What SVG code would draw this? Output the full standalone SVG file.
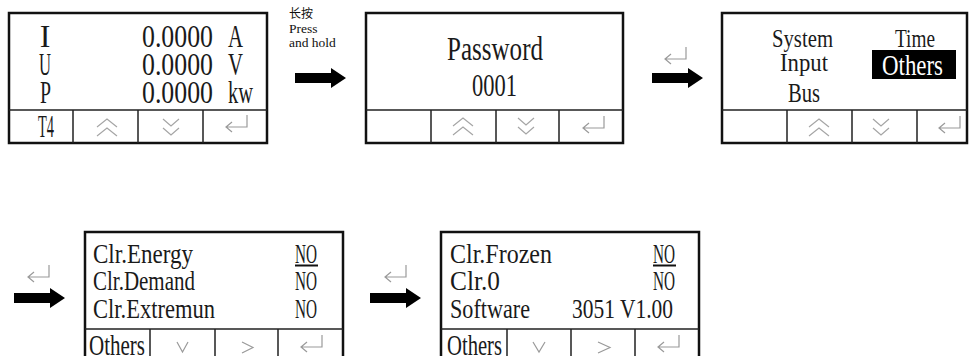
<svg xmlns="http://www.w3.org/2000/svg" width="970" height="356" viewBox="0 0 970 356">
<defs>
<style>
.box{fill:#fff;stroke:#111;stroke-width:2.5}
.div{stroke:#222;stroke-width:1.5;fill:none}
.lcd{font-family:"Liberation Serif","DejaVu Serif",serif;fill:#1a1a1a}
.sym{fill:none;stroke:#9a9a9a;stroke-width:1.2}
.note{font-family:"Liberation Serif","Noto Sans CJK SC",serif;font-size:13.5px;fill:#111}
</style>
<path id="arrow" d="M0,-5 H36 V-10 L51,0 L36,10 V5 H0 Z" fill="#000"/>
<path id="ret" d="M22,0 V12 H1 M7,7 L1,12 L7,17" fill="none" stroke="#9a9a9a" stroke-width="1.2"/>
<path id="dup" d="M0,9 L10,1 L20,9 M0,18 L10,10 L20,18" fill="none" stroke="#a5a5a5" stroke-width="1.2"/>
<path id="ddn" d="M0,1 L8,8 L16,1 M0,10 L8,17 L16,10" fill="none" stroke="#a5a5a5" stroke-width="1.2"/>
</defs>
<rect width="970" height="356" fill="#fff"/>

<g id="node-measure">
<rect class="box" x="9" y="13" width="258" height="130"/>
<path class="div" d="M9,110 H267 M73,110 V143 M138,110 V143 M203,110 V143"/>
<text class="lcd" font-size="32" x="45" y="47" text-anchor="middle">I</text>
<text class="lcd" font-size="32" x="39" y="75" textLength="12" lengthAdjust="spacingAndGlyphs">U</text>
<text class="lcd" font-size="32" x="40" y="103" textLength="11" lengthAdjust="spacingAndGlyphs">P</text>
<text class="lcd" font-size="32" x="142" y="47" textLength="71" lengthAdjust="spacingAndGlyphs">0.0000</text>
<text class="lcd" font-size="32" x="142" y="75" textLength="71" lengthAdjust="spacingAndGlyphs">0.0000</text>
<text class="lcd" font-size="32" x="142" y="103" textLength="71" lengthAdjust="spacingAndGlyphs">0.0000</text>
<text class="lcd" font-size="32" x="228" y="47" textLength="15" lengthAdjust="spacingAndGlyphs">A</text>
<text class="lcd" font-size="32" x="228" y="75" textLength="15" lengthAdjust="spacingAndGlyphs">V</text>
<text class="lcd" font-size="32" x="228" y="103" textLength="25" lengthAdjust="spacingAndGlyphs">kw</text>
<text class="lcd" font-size="32" x="38" y="137" textLength="16" lengthAdjust="spacingAndGlyphs">T4</text>
<use href="#dup" x="97" y="118"/>
<use href="#ddn" x="163" y="118"/>
<use href="#ret" x="225" y="115"/>
</g>

<g id="node-password">
<rect class="box" x="366" y="13" width="257" height="130"/>
<path class="div" d="M366,110 H623 M431,110 V143 M496,110 V143 M559,110 V143"/>
<text class="lcd" font-size="34" x="447" y="60" textLength="96" lengthAdjust="spacingAndGlyphs">Password</text>
<text class="lcd" font-size="31" x="472" y="96" textLength="45" lengthAdjust="spacingAndGlyphs">0001</text>
<use href="#dup" x="453" y="117"/>
<use href="#ddn" x="518" y="117"/>
<use href="#ret" x="582" y="116"/>
</g>

<g id="node-menu">
<rect class="box" x="722" y="13" width="245" height="130"/>
<path class="div" d="M722,110 H967 M787,110 V143 M852,110 V143 M917,110 V143"/>
<text class="lcd" font-size="26" x="772" y="47" textLength="61" lengthAdjust="spacingAndGlyphs">System</text>
<text class="lcd" font-size="26" x="780" y="71" textLength="48" lengthAdjust="spacingAndGlyphs">Input</text>
<text class="lcd" font-size="27" x="788" y="102" textLength="32" lengthAdjust="spacingAndGlyphs">Bus</text>
<text class="lcd" font-size="26" x="895" y="47" textLength="40" lengthAdjust="spacingAndGlyphs">Time</text>
<rect x="872" y="50" width="84" height="29" fill="#000"/>
<text class="lcd" font-size="29" x="882" y="75" textLength="61" lengthAdjust="spacingAndGlyphs" style="fill:#fff">Others</text>
<use href="#dup" x="809" y="118"/>
<use href="#ddn" x="873" y="118"/>
<use href="#ret" x="938" y="116"/>
</g>

<g id="node-clear1">
<rect class="box" x="85" y="232" width="258" height="140"/>
<path class="div" d="M85,329 H343 M150,329 V356 M215,329 V356 M278,329 V356"/>
<text class="lcd" font-size="27" x="93" y="263" textLength="100" lengthAdjust="spacingAndGlyphs">Clr.Energy</text>
<text class="lcd" font-size="27" x="93" y="290" textLength="102" lengthAdjust="spacingAndGlyphs">Clr.Demand</text>
<text class="lcd" font-size="27" x="93" y="318" textLength="122" lengthAdjust="spacingAndGlyphs">Clr.Extremun</text>
<text class="lcd" font-size="27" x="295" y="263" textLength="22" lengthAdjust="spacingAndGlyphs">NO</text>
<line x1="295" y1="265.5" x2="318" y2="265.5" stroke="#111" stroke-width="2"/>
<text class="lcd" font-size="27" x="295" y="290" textLength="22" lengthAdjust="spacingAndGlyphs">NO</text>
<text class="lcd" font-size="27" x="295" y="318" textLength="22" lengthAdjust="spacingAndGlyphs">NO</text>
<text class="lcd" font-size="30" x="89" y="355" textLength="56" lengthAdjust="spacingAndGlyphs">Others</text>
<path class="sym" d="M177,342 L182.5,352 L188,342"/>
<path class="sym" d="M242,342 L253,347.5 L242,353"/>
<use href="#ret" x="300" y="335"/>
</g>

<g id="node-clear2">
<rect class="box" x="441" y="232" width="258" height="140"/>
<path class="div" d="M441,329 H699 M507,329 V356 M571,329 V356 M635,329 V356"/>
<text class="lcd" font-size="27" x="450" y="263" textLength="102" lengthAdjust="spacingAndGlyphs">Clr.Frozen</text>
<text class="lcd" font-size="27" x="450" y="290" textLength="50" lengthAdjust="spacingAndGlyphs">Clr.0</text>
<text class="lcd" font-size="27" x="450" y="318" textLength="80" lengthAdjust="spacingAndGlyphs">Software</text>
<text class="lcd" font-size="27" x="572" y="318" textLength="101" lengthAdjust="spacingAndGlyphs">3051 V1.00</text>
<text class="lcd" font-size="27" x="653" y="263" textLength="22" lengthAdjust="spacingAndGlyphs">NO</text>
<line x1="653" y1="265.5" x2="676" y2="265.5" stroke="#111" stroke-width="2"/>
<text class="lcd" font-size="27" x="653" y="290" textLength="22" lengthAdjust="spacingAndGlyphs">NO</text>
<text class="lcd" font-size="30" x="447" y="355" textLength="55" lengthAdjust="spacingAndGlyphs">Others</text>
<path class="sym" d="M533,342 L539,352 L545,342"/>
<path class="sym" d="M598,342 L610,347.5 L598,353"/>
<use href="#ret" x="657" y="335"/>
</g>

<g id="connectors">
<text x="289" y="18" font-family="'Noto Sans CJK SC',sans-serif" font-size="12" fill="#111">长按</text>
<text class="note" x="289" y="33">Press</text>
<text class="note" x="289" y="47">and hold</text>
<use href="#arrow" x="295" y="78"/>
<use href="#ret" x="664" y="47"/>
<use href="#arrow" x="652" y="78"/>
<use href="#ret" x="27" y="265"/>
<use href="#arrow" x="14" y="298"/>
<use href="#ret" x="384" y="265"/>
<use href="#arrow" x="370" y="298"/>
</g>
</svg>
